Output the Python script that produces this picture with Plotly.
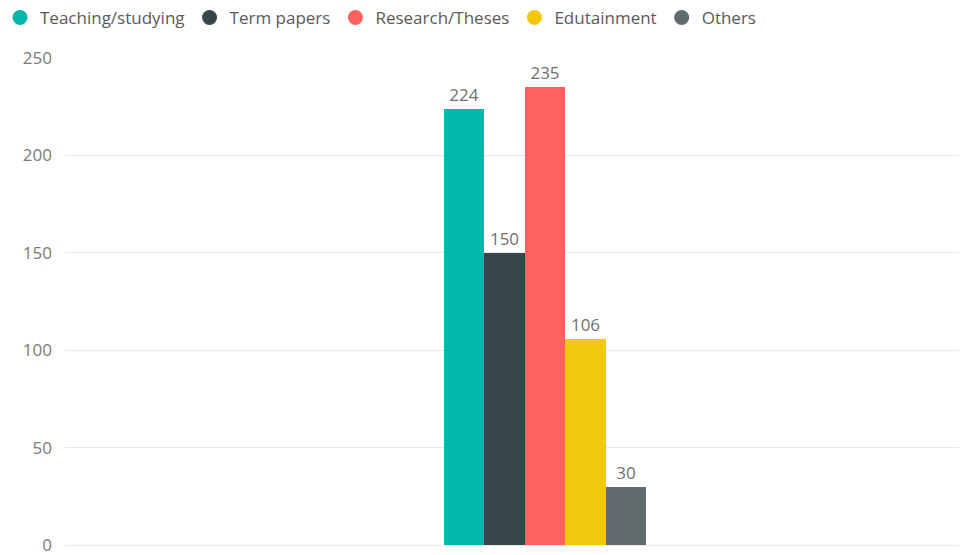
import plotly.graph_objects as go

categories = [""]
series_names = ["Teaching/studying", "Term papers", "Research/Theses", "Edutainment", "Others"]
series_values = [224, 150, 235, 106, 30]
colors = ["#01B8AA", "#374649", "#FD625E", "#F2C80F", "#5F6B6D"]
y_ticks = [0, 50, 100, 150, 200, 250]

fig = go.Figure()
for name, val, col in zip(series_names, series_values, colors):
    fig.add_trace(go.Bar(
        x=[0], y=[val], name=name, marker_color=col, showlegend=False,
        marker_line_width=0,
        text=[str(val)], textposition="outside", cliponaxis=False,
        textfont=dict(color="#6F6F6F", size=17, family="Open Sans"),
        hoverinfo="skip",
    ))
for name, col in zip(series_names, colors):
    fig.add_trace(go.Scatter(
        x=[None], y=[None], mode="markers", name=name,
        marker=dict(color=col, size=15, symbol="circle"),
    ))

fig.update_layout(
    width=961, height=555,
    margin=dict(l=65, r=2, t=58, b=10, autoexpand=False),
    paper_bgcolor="white", plot_bgcolor="white",
    barmode="group", bargap=0, bargroupgap=0,
    font=dict(family="Open Sans", color="#777777", size=17),
    legend=dict(orientation="h", x=-0.012, xanchor="left", y=1.0, yanchor="top",
                xref="container", yref="container",
                font=dict(size=17, color="#5A5A5A"), itemwidth=30,
                tracegroupgap=0),
    xaxis=dict(range=[-(545 - 65) / 202, (959 - 545) / 202], showticklabels=False,
               showgrid=False, zeroline=False, showline=False, fixedrange=True,
               automargin=False),
    yaxis=dict(range=[0, 250], tickvals=y_ticks, showgrid=True, gridcolor="#EAEAEA",
               zeroline=True, zerolinecolor="#EAEAEA", zerolinewidth=1,
               showline=False, ticks="", ticklabelstandoff=12,
               ticklabeloverflow="allow", automargin=False,
               tickfont=dict(size=17, color="#7A7A7A")),
)
fig.write_html("out.html")
